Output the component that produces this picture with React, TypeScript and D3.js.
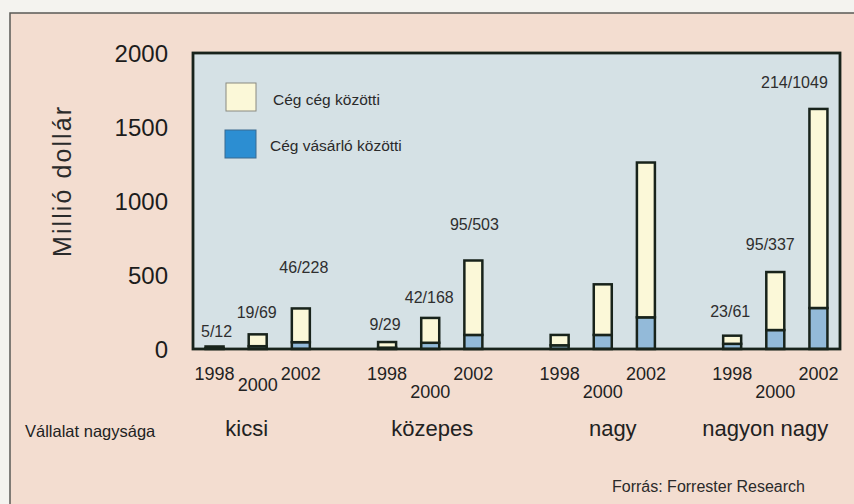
import React from 'react';
import * as d3 from 'd3';

// ---- data ----
const groups = ['kicsi', 'közepes', 'nagy', 'nagyon nagy'];
const years = ['1998', '2000', '2002'];
// Cég vásárló közötti (lower, blue segment), per group, per year
const cegVasarlo = [
  [5, 19, 46],
  [9, 42, 95],
  [25, 95, 214],
  [35, 128, 277],
];
// Cég cég közötti (upper, cream segment)
const cegCeg = [
  [12, 80, 228],
  [38, 168, 503],
  [70, 342, 1046],
  [55, 392, 1345],
];
// value annotations printed above bars
const labelTexts = [
  ['5/12', '19/69', '46/228'],
  ['9/29', '42/168', '95/503'],
  ['', '', ''],
  ['23/61', '95/337', '214/1049'],
];
const yTicks = [0, 500, 1000, 1500, 2000];
const legendItems = ['Cég cég közötti', 'Cég vásárló közötti'];

// ---- layout (not data) ----
const labelLift = [
  [9, 16, 35],
  [12, 15, 30],
  [0, 0, 0],
  [19, 22, 21],
];
const labelShift = [
  [2, -1, 3],
  [-2, -1, 1],
  [0, 0, 0],
  [-2, -5, -24],
];
const groupLabelShift = [-11, 2, 10, -10];

const W = 854;
const H = 504;
const plot = { left: 193, right: 840, top: 53, bottom: 349 };
const FONT = '"Liberation Sans", Arial, Helvetica, sans-serif';

export default function App() {
  const y = d3.scaleLinear().domain([0, 2000]).range([plot.bottom, plot.top]);
  const gx = d3.scalePoint<string>().domain(groups).range([plot.left, plot.right]).padding(0.375);
  const step = gx.step();
  const yx = d3.scalePoint<string>().domain(years).range([-0.25 * step, 0.25 * step]);
  const barW = 18;

  const outerBg = '#f3ddd0';
  const plotBg = '#d5e1e5';
  const cream = '#fbf8d8';
  const barBlue = '#93bad9';
  const legendBlue = '#2c8ed2';
  const ink = '#18231b';

  return (
    <svg width={W} height={H} style={{ position: 'absolute', left: 0, top: 0 }} fontFamily={FONT}>
      <rect x={0} y={0} width={W} height={H} fill="#f4f3ef" />
      <rect x={10} y={13} width={W + 20} height={H + 20} fill={outerBg} stroke="#5a5a55" strokeWidth={1.5} />

      {/* plot area */}
      <rect x={plot.left} y={plot.top} width={plot.right - plot.left} height={plot.bottom - plot.top} fill={plotBg} />

      {/* y tick labels */}
      {yTicks.map((t) => (
        <text key={t} x={168} y={y(t)} dy="0.36em" textAnchor="end" fontSize={24} fill="#1c1c1c">
          {t}
        </text>
      ))}

      {/* y axis title */}
      <text
        transform={`translate(71,${182}) rotate(-90)`}
        textAnchor="middle"
        fontSize={25}
        fill="#2a2a2a"
        textLength={150}
        lengthAdjust="spacing"
      >
        Millió dollár
      </text>

      {/* bars */}
      {groups.map((g, gi) =>
        years.map((yr, yi) => {
          const cx = (gx(g) as number) + (yx(yr) as number);
          const b = cegVasarlo[gi][yi];
          const c = cegCeg[gi][yi];
          return (
            <g key={g + yr}>
              <rect x={cx - barW / 2} y={y(b)} width={barW} height={y(0) - y(b)} fill={barBlue} stroke={ink} strokeWidth={2.5} />
              <rect x={cx - barW / 2} y={y(b + c)} width={barW} height={y(b) - y(b + c)} fill={cream} stroke={ink} strokeWidth={2.5} />
            </g>
          );
        })
      )}

      {/* plot frame */}
      <rect x={plot.left} y={plot.top} width={plot.right - plot.left} height={plot.bottom - plot.top} fill="none" stroke={ink} strokeWidth={2.8} />

      {/* value labels */}
      {groups.map((g, gi) =>
        years.map((yr, yi) => {
          const txt = labelTexts[gi][yi];
          if (!txt) return null;
          const cx = (gx(g) as number) + (yx(yr) as number);
          const total = cegVasarlo[gi][yi] + cegCeg[gi][yi];
          return (
            <text key={'l' + g + yr} x={cx + labelShift[gi][yi]} y={y(total) - labelLift[gi][yi]} textAnchor="middle" fontSize={16} fill="#2e2e2e">
              {txt}
            </text>
          );
        })
      )}

      {/* year labels */}
      {groups.map((g, gi) =>
        years.map((yr, yi) => {
          const cx = (gx(g) as number) + (yx(yr) as number);
          const base = yi === 1 ? (gi === 0 ? 391 : 398) : 380;
          return (
            <text key={'y' + g + yr} x={cx} y={base} textAnchor="middle" fontSize={18} fill="#222">
              {yr}
            </text>
          );
        })
      )}

      {/* category labels */}
      <text x={25} y={437} fontSize={16.5} fill="#222">Vállalat nagysága</text>
      {groups.map((g, gi) => (
        <text key={'c' + g} x={(gx(g) as number) + groupLabelShift[gi]} y={436} textAnchor="middle" fontSize={22} fill="#222">
          {g}
        </text>
      ))}

      {/* legend */}
      <rect x={226} y={83} width={30} height={28} fill={cream} stroke="#8a8a80" strokeWidth={1} />
      <text x={273} y={105} fontSize={15.5} fill="#2a2a2a">{legendItems[0]}</text>
      <rect x={225} y={130} width={31} height={28} fill={legendBlue} stroke="#3a6a90" strokeWidth={1} />
      <text x={270} y={151} fontSize={15.5} fill="#2a2a2a">{legendItems[1]}</text>

      {/* source */}
      <text x={612} y={492} fontSize={16} fill="#2a2a2a">Forrás: Forrester Research</text>
    </svg>
  );
}
